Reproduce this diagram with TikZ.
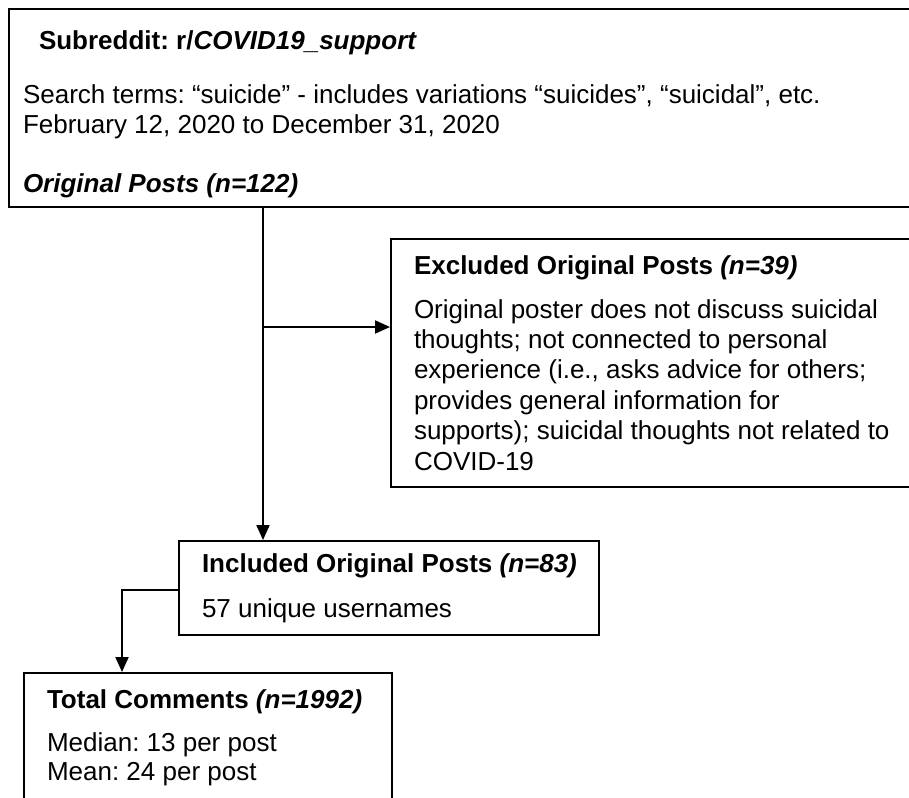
\documentclass[tikz,border=0pt]{standalone}
\usepackage{fontspec}
\setmainfont{Liberation Sans}
\usetikzlibrary{arrows.meta}
\frenchspacing
\newcommand{\drawbox}{\node[draw,rectangle,line width=2pt,anchor=north west,inner sep=0]}
\newcommand{\drawtext}{\node[anchor=base west,inner sep=0,font=\fontsize{26}{30.4}\selectfont,align=left]}
\newcommand{\drawdummy}{\coordinate}

\begin{document}
\begin{tikzpicture}[x=1pt,y=-1pt,line width=2pt,>={Triangle[length=15pt,width=13pt]}]
\path[use as bounding box,clip] (0,0) rectangle (909,797);
%source posts
\drawbox[minimum width=960pt,minimum height=198pt] (src) at (8,8) {};
\drawtext (srcTitle) at (38,50) {\bfseries Subreddit: r/\itshape COVID19\_support};
\drawtext (srcTerms) at (22,104) {Search terms: “suicide” - includes variations “suicides”, “suicidal”, etc.};
\drawtext (srcDates) at (22,133) {February 12, 2020 to December 31, 2020};
\drawtext (srcCount) at (22,192) {\bfseries\itshape Original Posts (n=122)};

%excluded posts (base = last line)
\drawbox[minimum width=600pt,minimum height=248pt] (excl) at (390,238) {};
\drawtext (exclTitle) at (413,274) {\bfseries Excluded Original Posts \itshape(n=39)};
\drawtext (exclWhy) at (413,470) {Original poster does not discuss suicidal\\
thoughts; not connected to personal\\
experience (i.e., asks advice for others;\\
provides general information for\\
supports); suicidal thoughts not related to\\
COVID-19};

%included posts
\drawbox[minimum width=420pt,minimum height=94pt] (incl) at (178,540) {};
\drawtext (inclTitle) at (201,572) {\bfseries Included Original Posts \itshape(n=83)};
\drawtext (inclUsers) at (201,617) {57 unique usernames};

%comments
\drawbox[minimum width=368pt,minimum height=160pt] (total) at (23,672) {};
\drawtext (totalTitle) at (46,708) {\bfseries Total Comments \itshape(n=1992)};
\drawtext (totalMedian) at (46,751) {Median: 13 per post};
\drawtext (totalMean) at (46,780) {Mean: 24 per post};

\drawdummy (split) at (263,327);
\drawdummy (elbow) at (122,590);

\draw[->] (src.south -| split) to (split |- incl.north);
\draw[->] (split) to (split -| excl.west);
\draw[->] (elbow -| incl.west) to (elbow) to (elbow |- total.north);

\end{tikzpicture}
\end{document}
